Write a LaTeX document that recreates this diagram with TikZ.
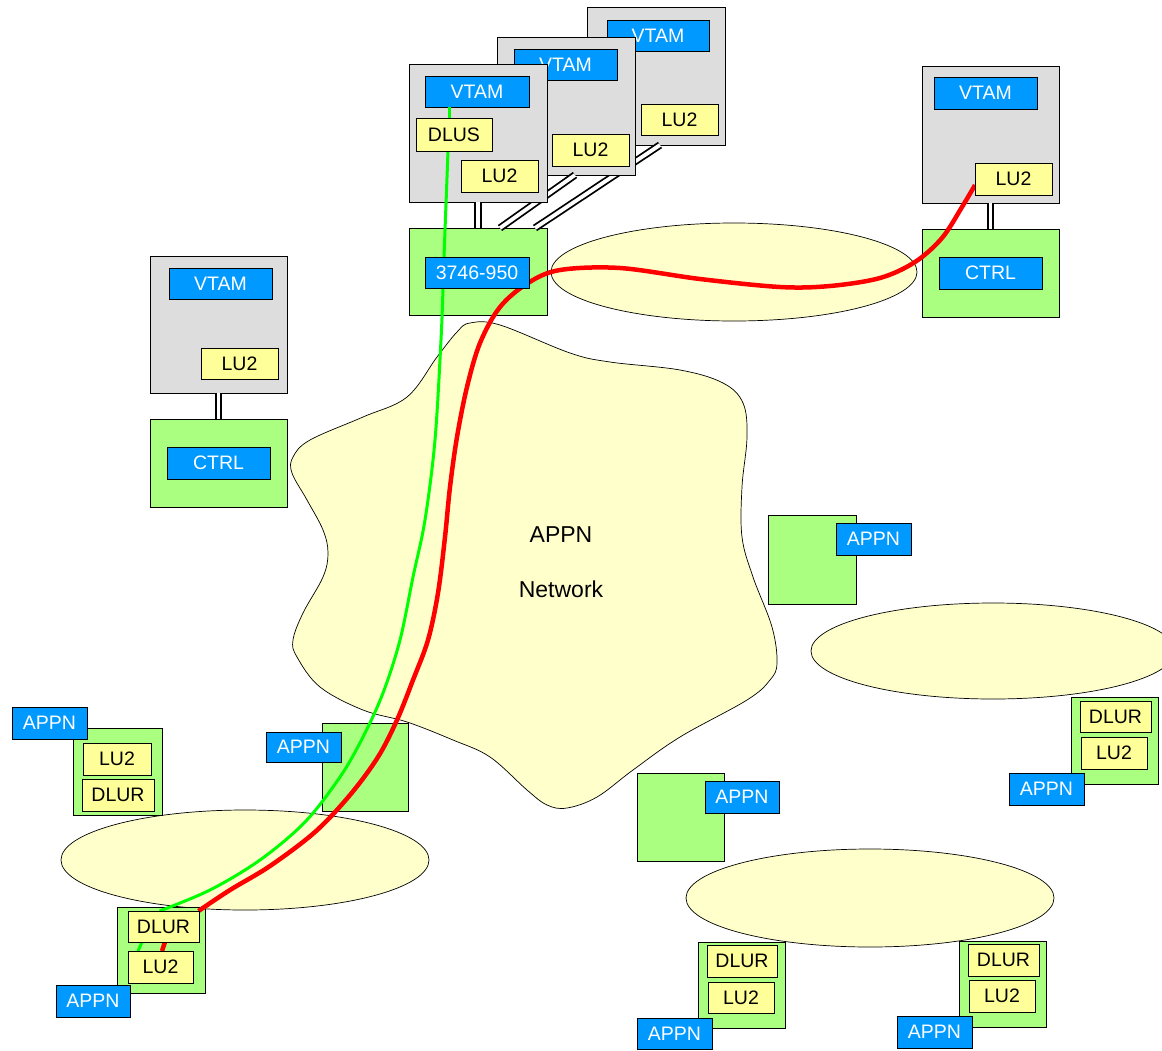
\documentclass[tikz,border=0pt]{standalone}
\usepackage{fontspec}
\setmainfont{Liberation Sans}
\usetikzlibrary{shadows,calc}
\definecolor{vblue}{RGB}{0,153,255}
\definecolor{vgreen}{RGB}{170,255,128}
\definecolor{vyellow}{RGB}{255,255,153}
\definecolor{vcream}{RGB}{255,255,204}
\definecolor{vgray}{RGB}{221,221,221}
\definecolor{vline}{RGB}{0,255,0}
\definecolor{rline}{RGB}{255,0,0}
\pgfdeclarelayer{lines}
\pgfdeclarelayer{front}
\pgfsetlayers{main,lines,front}
\newcommand\mybox[7]{\node[#1, minimum width={(#5-#3)*1pt}, minimum height={(#6-#4)*1pt}] (#2) at ({(#3+#5)/2},{(#4+#6)/2}) {#7};}
\tikzset{
  base/.style={draw=black, line width=0.8pt, inner sep=0pt, outer sep=0pt,
    drop shadow={shadow xshift=1.4pt, shadow yshift=-1.4pt, opacity=1, fill=black!85}},
  graybox/.style={base, fill=vgray},
  greenbox/.style={base, fill=vgreen},
  bluebox/.style={base, fill=vblue, text=white, font=\fontsize{19.5}{22}\selectfont},
  yellowbox/.style={base, fill=vyellow, text=black, font=\fontsize{19.5}{22}\selectfont},
  link/.style={draw=black, line width=1.8pt, double=white, double distance=3.8pt},
  cloudshape/.style={draw=black, line width=0.7pt, fill=vcream},
  greenpath/.style={draw=vline, line width=3pt},
  redpath/.style={draw=rline, line width=4.5pt},
  bigtext/.style={font=\fontsize{23}{26}\selectfont, text=black, inner sep=0pt}
}
\begin{document}
\begin{tikzpicture}[x=1pt,y=-1pt]
\useasboundingbox (0,0) rectangle (1162,1050);
\fill[white] (0,0) rectangle (1162,1050);
% --- token-ring ellipses and APPN cloud ---
\begin{scope}
\clip (0,0) rectangle (1162,1050);
\draw[cloudshape] (734,272) ellipse [x radius=183pt, y radius=49pt];
\draw[cloudshape] (993,651) ellipse [x radius=182pt, y radius=48pt];
\draw[cloudshape] (245,860) ellipse [x radius=184pt, y radius=50pt];
\draw[cloudshape] (870,898) ellipse [x radius=184pt, y radius=49pt];
\end{scope}
\draw[cloudshape] plot[smooth cycle, tension=0.6] coordinates {
 (470,323) (500,325) (570,353) (610,362) (680,370) (723,383) (743,403) (747,437)
 (742,487) (742,537) (753,577) (772,627) (777,663) (770,680) (747,700) (680,737)
 (633,770) (597,797) (567,808) (547,805) (527,790) (490,757) (453,740) (407,722)
 (363,710) (320,687) (297,657) (293,640) (303,613) (323,577) (328,553) (323,530)
 (307,500) (292,473) (293,457) (310,440) (363,417) (407,397) (437,357) (457,332)};
\node[bigtext] (cloudA) at (561,535) {APPN};
\node[bigtext] (cloudB) at (561,589) {Network};

% --- stacked hosts and 3746-950 ---
\mybox{greenbox}{g3746}{409}{228}{547}{315}{}
\begin{pgfonlayer}{front}
\mybox{bluebox}{b3746}{425}{257}{529}{288}{3746-950}
\end{pgfonlayer}
\mybox{graybox}{gray3}{587}{7}{725}{145}{}
\mybox{bluebox}{vt3}{607}{20}{709}{51}{VTAM}
\mybox{yellowbox}{lu3}{641}{104}{718}{135}{LU2}
\draw[link] ([xshift=4pt]gray3.south) -- ([xshift=57pt]g3746.north);
\mybox{graybox}{gray2}{497}{37}{635}{175}{}
\mybox{bluebox}{vt2}{514}{49}{617}{80}{VTAM}
\mybox{yellowbox}{lu2b}{552}{134}{629}{166}{LU2}
\draw[link] ([xshift=9pt]gray2.south) -- ([xshift=22pt]g3746.north);
\mybox{graybox}{gray1}{409}{64}{547}{202}{}
\mybox{bluebox}{vt1}{425}{76}{529}{107}{VTAM}
\mybox{yellowbox}{lu1}{461}{160}{538}{192}{LU2}
\begin{pgfonlayer}{front}
\mybox{yellowbox}{dlus}{416}{118}{492}{151}{DLUS}
\end{pgfonlayer}
\draw[link] (gray1.south) -- (g3746.north);

% --- right host ---
\mybox{graybox}{grayR}{922}{66}{1059}{203}{}
\mybox{bluebox}{vtR}{934}{77}{1037}{109}{VTAM}
\begin{pgfonlayer}{front}
\mybox{yellowbox}{luR}{975}{163}{1052}{195}{LU2}
\end{pgfonlayer}
\mybox{greenbox}{gR}{922}{229}{1059}{317}{}
\mybox{bluebox}{ctrlR}{939}{257}{1042}{289}{CTRL}
\draw[link] (grayR.south) -- (gR.north);

% --- left host ---
\mybox{graybox}{grayL}{150}{256}{287}{393}{}
\mybox{bluebox}{vtL}{169}{268}{272}{299}{VTAM}
\mybox{yellowbox}{luL}{201}{348}{278}{379}{LU2}
\mybox{greenbox}{gL}{150}{419}{287}{507}{}
\mybox{bluebox}{ctrlL}{167}{447}{270}{479}{CTRL}
\draw[link] (grayL.south) -- (gL.north);

% --- APPN nodes ---
\mybox{greenbox}{gA}{73}{728}{162}{815}{}
\mybox{yellowbox}{luA}{83}{743}{151}{775}{LU2}
\mybox{yellowbox}{dlurA}{82}{779}{154}{811}{DLUR}
\mybox{bluebox}{appnA}{12}{707}{87}{739}{APPN}

\mybox{greenbox}{sqB}{322}{723}{408}{811}{}
\mybox{bluebox}{appnB}{266}{732}{341}{762}{APPN}

\mybox{greenbox}{gC}{117}{907}{205}{993}{}
\begin{pgfonlayer}{front}
\mybox{yellowbox}{dlurC}{128}{911}{199}{942}{DLUR}
\mybox{yellowbox}{luC}{128}{951}{193}{983}{LU2}
\end{pgfonlayer}
\mybox{bluebox}{appnC}{56}{985}{130}{1017}{APPN}

\mybox{greenbox}{sqD}{637}{773}{724}{861}{}
\mybox{bluebox}{appnD}{705}{781}{779}{813}{APPN}

\mybox{greenbox}{gE}{698}{942}{785}{1028}{}
\mybox{yellowbox}{dlurE}{707}{945}{777}{977}{DLUR}
\mybox{yellowbox}{luE}{708}{982}{774}{1013}{LU2}
\mybox{bluebox}{appnE}{637}{1018}{712}{1049}{APPN}

\mybox{greenbox}{gF}{959}{941}{1046}{1027}{}
\mybox{yellowbox}{dlurF}{968}{944}{1039}{976}{DLUR}
\mybox{yellowbox}{luF}{969}{980}{1035}{1012}{LU2}
\mybox{bluebox}{appnF}{897}{1016}{972}{1048}{APPN}

\mybox{greenbox}{sqG}{768}{515}{856}{604}{}
\mybox{bluebox}{appnG}{836}{523}{911}{555}{APPN}

\mybox{greenbox}{gH}{1071}{697}{1158}{784}{}
\mybox{yellowbox}{dlurH}{1080}{701}{1151}{732}{DLUR}
\mybox{yellowbox}{luH}{1081}{737}{1147}{769}{LU2}
\mybox{bluebox}{appnH}{1009}{773}{1084}{805}{APPN}

% --- session paths ---
\begin{pgfonlayer}{lines}
\draw[greenpath] ([xshift=-5pt]dlus.north |- vt1.south) -- ([xshift=-5pt]dlus.north);
\draw[greenpath] ([xshift=-6pt]dlus.south) -- ([xshift=-33pt]b3746.north);
\draw[greenpath] plot[smooth, tension=0.55] coordinates {
 ([xshift=-34pt]b3746.south) (441,340) (435,440) (425,520) (413,577) (400,640)
 (383,693) (363,737) (340,777) (305,822) (260,860) (210,890) ([xshift=-4pt]dlurC.north)};
\draw[greenpath] ([xshift=-21.5pt]dlurC.south) -- ([xshift=-22.5pt]luC.north);
\draw[redpath] plot[smooth, tension=0.55] coordinates {
 ([yshift=-6pt]luR.west) (962,207) (942,238) (915,262) (880,278) (830,286) (780,287)
 (700,279) (620,268) (560,270) (528,283) (500,307) (480,343) (467,387) (457,437)
 (450,487) (445,537) (438,593) (428,640) (413,680) (397,720) (378,757) (350,795)
 (315,832) (270,866) (230,890) ([xshift=35pt]dlurC.north)};
\draw[redpath] ([xshift=1.5pt]dlurC.south) -- ([xshift=1.5pt]luC.north);
\end{pgfonlayer}
\end{tikzpicture}
\end{document}
